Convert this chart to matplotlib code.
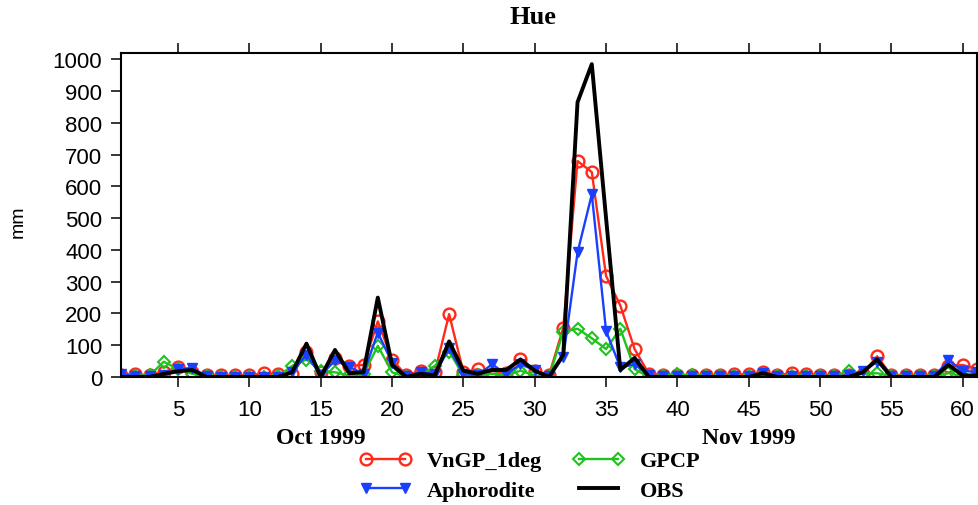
import matplotlib
matplotlib.use("Agg")
import matplotlib.pyplot as plt

# Dane dzienne: 1 Oct 1999 .. 30 Nov 1999 (61 dni)
days = list(range(1, 62))

vngp = [5, 8, 5, 15, 30, 15, 5, 5, 5, 5, 12, 8, 10, 78, 15, 60, 35, 38, 175, 55,
        5, 20, 15, 198, 15, 25, 10, 12, 58, 18, 5, 155, 680, 645, 318, 225, 88, 10, 5, 5,
        5, 5, 5, 8, 8, 15, 5, 12, 10, 5, 5, 5, 10, 65, 5, 5, 5, 5, 35, 38, 25]
gpcp = [3, 2, 5, 48, 25, 10, 2, 0, 0, 0, 0, 2, 35, 55, 20, 15, 5, 8, 98, 15,
        0, 5, 35, 80, 5, 5, 10, 5, 20, 5, 0, 142, 152, 122, 88, 152, 25, 0, 2, 8,
        5, 2, 2, 2, 2, 5, 2, 2, 2, 2, 2, 20, 10, 12, 2, 2, 2, 2, 12, 2, 2]
aphro = [10, 3, 3, 5, 25, 28, 2, 0, 0, 0, 0, 0, 15, 70, 5, 52, 32, 10, 140, 45,
         2, 15, 10, 90, 10, 5, 40, 10, 40, 22, 2, 62, 392, 575, 145, 30, 40, 5, 2, 2,
         2, 2, 2, 2, 2, 12, 2, 2, 2, 2, 2, 5, 18, 48, 2, 2, 2, 2, 52, 20, 15]
obs = [0, 0, 0, 10, 18, 22, 0, 0, 0, 0, 0, 0, 15, 105, 0, 85, 12, 15, 250, 38,
       0, 10, 5, 112, 20, 10, 22, 22, 55, 20, 0, 70, 865, 985, 500, 22, 60, 0, 0, 0,
       0, 0, 0, 0, 0, 12, 0, 0, 0, 0, 0, 0, 15, 55, 0, 0, 0, 0, 38, 5, 5]

xticks = list(range(5, 61, 5))
yticks = list(range(0, 1001, 100))
months = ["Oct 1999", "Nov 1999"]
month_pos = [15, 45]

SANS = "Liberation Sans"
SERIF = "Liberation Serif"

fig = plt.figure(figsize=(9.79, 5.06), dpi=100)
ax = fig.add_axes([121 / 979, 128 / 506, 856 / 979, 324 / 506])

ax.plot(days, vngp, color="#ff2a1a", lw=1.7, marker="o", ms=8.5, mfc="none",
        mew=1.7, label="VnGP_1deg")
ax.plot(days, gpcp, color="#1ec31e", lw=1.7, marker="D", ms=6, mfc="none",
        mew=1.5, label="GPCP")
ax.plot(days, aphro, color="#1a40ff", lw=1.7, marker="v", ms=7.5, label="Aphorodite")
ax.plot(days, obs, color="black", lw=2.8, label="OBS")

ax.set_xlim(1, 61)
ax.set_ylim(0, 1020)
ax.set_xticks(xticks)
ax.set_yticks(yticks)
ax.tick_params(direction="out", length=7.5, width=1.1, top=True, right=True,
               labelsize=16)
ax.tick_params(axis="x", pad=8)
ax.tick_params(axis="y", pad=6)
for lab in ax.get_xticklabels() + ax.get_yticklabels():
    lab.set_fontfamily(SANS)
for s in ax.spines.values():
    s.set_linewidth(1.5)

fig.text(18 / 979, 1 - 222 / 506, "mm", rotation=90, ha="center", va="center",
         fontfamily=SANS, fontsize=14)
fig.text(533 / 979, 1 - 17 / 506, "Hue", ha="center", va="center",
         fontfamily=SERIF, fontweight="bold", fontsize=19)

# etykiety miesięcy pod osią X
for m, p in zip(months, month_pos):
    ax.text(p, -(438 - 378) / 324, m, transform=ax.get_xaxis_transform(),
            ha="center", va="center", fontfamily=SERIF, fontweight="bold",
            fontsize=17)

handles, labels = ax.get_legend_handles_labels()
order = [0, 2, 1, 3]
fig.legend([handles[i] for i in order], [labels[i] for i in order],
           ncol=2, loc="center", bbox_to_anchor=(530 / 979, 1 - 477 / 506),
           frameon=False, numpoints=2, handlelength=2.35, handletextpad=0.68,
           columnspacing=1.35, labelspacing=0.42, borderpad=0.2,
           prop={"family": SERIF, "weight": "bold", "size": 16})

fig.savefig("out.png", dpi=100)
